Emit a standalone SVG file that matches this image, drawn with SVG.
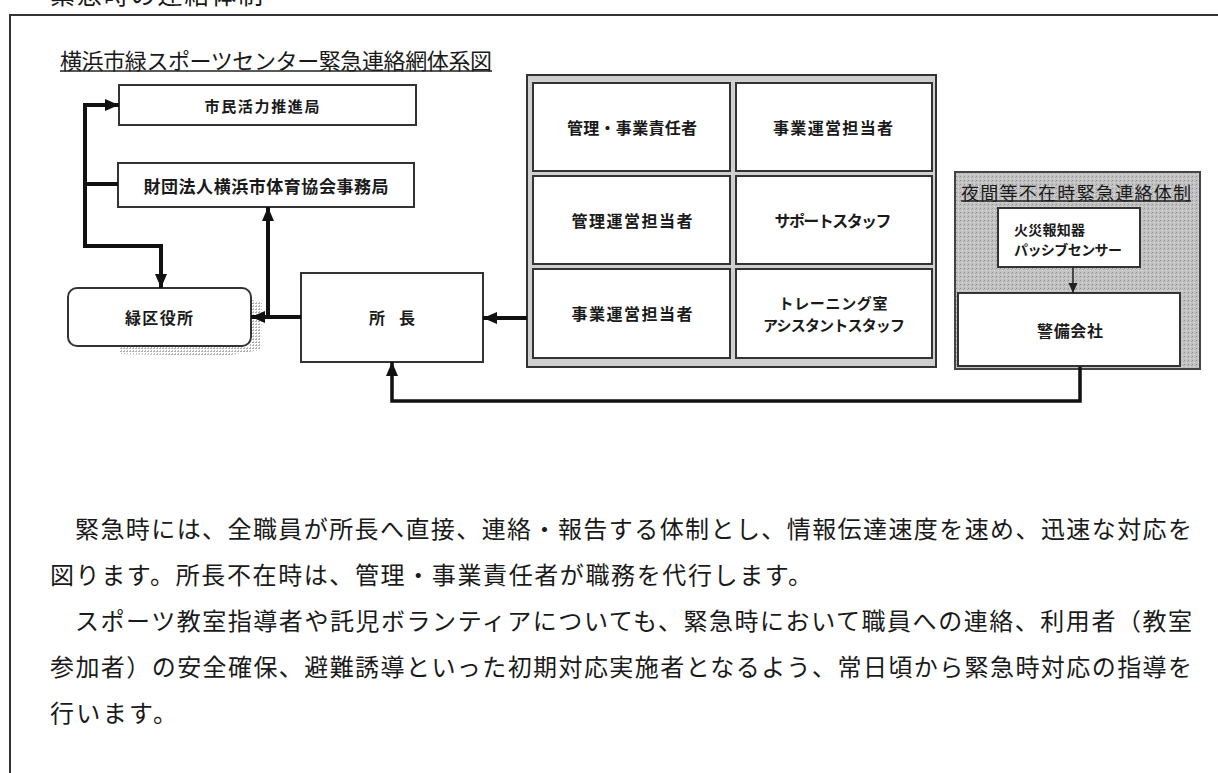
<svg xmlns="http://www.w3.org/2000/svg" width="1218" height="773" viewBox="0 0 1218 773">
<style>
text{font-family:"Noto Sans CJK JP","Noto Sans CJK SC",sans-serif;fill:#1a1a1a}
.lbl{font-size:16px;font-weight:bold;text-anchor:middle;dominant-baseline:central}
.body{font-size:24px;dominant-baseline:central}
.box{fill:#fff;stroke:#333;stroke-width:2}
.cell{fill:#fff;stroke:#333;stroke-width:2}
.conn{fill:none;stroke:#111;stroke-width:4}
</style>
<defs>
<marker id="ah" markerUnits="userSpaceOnUse" markerWidth="14" markerHeight="14" viewBox="0 0 14 14" refX="14" refY="7" orient="auto">
<path d="M0,1 L14,7 L0,13 Z" fill="#111"/>
</marker>
<marker id="ahs" markerUnits="userSpaceOnUse" markerWidth="10" markerHeight="10" viewBox="0 0 10 10" refX="10" refY="5" orient="auto">
<path d="M0,0.5 L10,5 L0,9.5 Z" fill="#222"/>
</marker>
<pattern id="dots" width="4" height="4" patternUnits="userSpaceOnUse">
<rect width="4" height="4" fill="#c2c2c2"/>
<rect x="0" y="0" width="1" height="1" fill="#929292"/>
<rect x="2" y="2" width="1" height="1" fill="#e2e2e2"/>
<rect x="3" y="1" width="1" height="1" fill="#a8a8a8"/>
</pattern>
<pattern id="shade" width="3" height="3" patternUnits="userSpaceOnUse">
<rect width="3" height="3" fill="#fff"/>
<rect x="0" y="0" width="2" height="1" fill="#999"/>
<rect x="1" y="2" width="1" height="1" fill="#aaa"/>
</pattern>
</defs>

<g id="frame">
<text x="50" y="4" style="font-size:25px" textLength="213">緊急時の連絡体制</text>
<path d="M10,773 V15 H1218" fill="none" stroke="#333" stroke-width="2"/>
</g>

<g id="title">
<text x="60" y="59" style="font-size:22px;dominant-baseline:central" textLength="432">横浜市緑スポーツセンター緊急連絡網体系図</text>
<line x1="60" y1="71" x2="492" y2="71" stroke="#222" stroke-width="1.5"/>
</g>

<g id="node-shimin">
<rect class="box" x="119" y="85" width="297" height="40"/>
<text class="lbl" x="262" y="105" style="font-size:15px" textLength="115">市民活力推進局</text>
</g>

<g id="node-zaidan">
<rect class="box" x="118" y="163" width="296" height="44"/>
<text class="lbl" x="266" y="185" style="font-size:17px" textLength="245">財団法人横浜市体育協会事務局</text>
</g>

<g id="node-midoriku">
<path d="M120,347 H250 L252,300 L262,302 L261,350 L225,356 L120,354 Z" fill="url(#shade)" opacity="0.8"/>
<rect class="box" x="68" y="288" width="183" height="58" rx="9"/>
<text class="lbl" x="159" y="317" textLength="68">緑区役所</text>
</g>

<g id="node-shocho">
<rect class="box" x="301" y="273" width="182" height="89"/>
<text class="lbl" x="392" y="317" textLength="46">所 長</text>
</g>

<g id="node-staff">
<rect x="527" y="75" width="409" height="292" fill="#cfcfcf" stroke="#333" stroke-width="2"/>
<g id="cell-1">
<rect class="cell" x="533" y="83" width="197" height="88"/>
<text class="lbl" x="632" y="127" textLength="130">管理・事業責任者</text>
</g>
<g id="cell-2">
<rect class="cell" x="736" y="83" width="196" height="88"/>
<text class="lbl" x="833" y="127" textLength="120">事業運営担当者</text>
</g>
<g id="cell-3">
<rect class="cell" x="533" y="176" width="197" height="88"/>
<text class="lbl" x="632" y="220" textLength="121">管理運営担当者</text>
</g>
<g id="cell-4">
<rect class="cell" x="736" y="176" width="196" height="88"/>
<text class="lbl" x="833" y="220" textLength="117">サポートスタッフ</text>
</g>
<g id="cell-5">
<rect class="cell" x="533" y="269" width="197" height="89"/>
<text class="lbl" x="632" y="313" textLength="121">事業運営担当者</text>
</g>
<g id="cell-6">
<rect class="cell" x="736" y="269" width="196" height="89"/>
<text class="lbl" x="833" y="302" style="font-size:15px" textLength="109">トレーニング室</text>
<text class="lbl" x="834" y="324" style="font-size:15px" textLength="142">アシスタントスタッフ</text>
</g>
</g>

<g id="node-night">
<rect x="955" y="172" width="245" height="197" fill="url(#dots)" stroke="#444" stroke-width="2"/>
<text x="961" y="192" style="font-size:18px;dominant-baseline:central" textLength="230">夜間等不在時緊急連絡体制</text>
<line x1="961" y1="201" x2="1191" y2="201" stroke="#222" stroke-width="1.5"/>
</g>

<g id="node-sensor">
<rect class="box" x="998" y="208" width="142" height="59"/>
<text x="1014" y="229" style="font-size:14px;font-weight:bold;dominant-baseline:central" textLength="71">火災報知器</text>
<text x="1014" y="249" style="font-size:14px;font-weight:bold;dominant-baseline:central" textLength="108">パッシブセンサー</text>
</g>

<g id="node-keibi">
<rect class="box" x="958" y="293" width="222" height="73"/>
<text class="lbl" x="1070" y="330" textLength="66">警備会社</text>
</g>

<g id="connectors">
<path class="conn" d="M118,184 H85 V105 H119" marker-end="url(#ah)"/>
<path class="conn" d="M85,184 V246 H161 V288" marker-end="url(#ah)"/>
<path class="conn" d="M301,317 H251" marker-end="url(#ah)"/>
<path class="conn" d="M268,317 V207" marker-end="url(#ah)"/>
<path class="conn" d="M527,318 H483" marker-end="url(#ah)"/>
<path class="conn" style="stroke-width:3.5" d="M1080,367 V401 H392 V362" marker-end="url(#ah)"/>
<path fill="none" stroke="#222" stroke-width="1.5" d="M1073,267 V293" marker-end="url(#ahs)"/>
</g>

<g id="body">
<text class="body" x="75" y="527" textLength="1117">緊急時には、全職員が所長へ直接、連絡・報告する体制とし、情報伝達速度を速め、迅速な対応を</text>
<text class="body" x="50" y="573" textLength="762">図ります。所長不在時は、管理・事業責任者が職務を代行します。</text>
<text class="body" x="75" y="619" textLength="1117">スポーツ教室指導者や託児ボランティアについても、緊急時において職員への連絡、利用者（教室</text>
<text class="body" x="50" y="665" textLength="1142">参加者）の安全確保、避難誘導といった初期対応実施者となるよう、常日頃から緊急時対応の指導を</text>
<text class="body" x="50" y="711" textLength="127">行います。</text>
</g>
</svg>
